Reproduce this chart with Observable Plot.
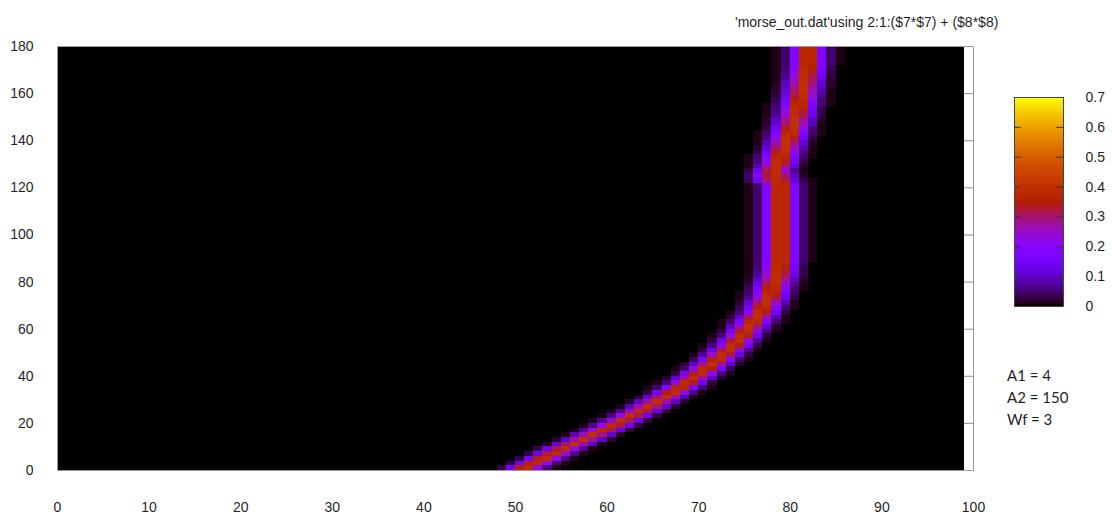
<!DOCTYPE html>
<html>
<head>
<meta charset="utf-8">
<script src="https://cdn.jsdelivr.net/npm/d3@7"></script>
<script src="https://cdn.jsdelivr.net/npm/@observablehq/plot@0.6"></script>
<style>
  body { margin: 0; background: #fff; }
  #wrap { position: relative; width: 1112px; height: 517px; overflow: hidden;
          font-family: "Liberation Sans", Arial, sans-serif; color: #1f1f1f; }
  #wrap svg { max-width: none; }
  #main { position: absolute; left: 0; top: 0; width: 1112px; }
  #bar { position: absolute; left: 1013px; top: 87px; width: 110px; }
  #title { position: absolute; left: 735px; top: 15px; font-size: 14px; line-height: 14px; white-space: nowrap; }
  #params { position: absolute; left: 1007px; top: 364px; font-family: Lato, "Open Sans", sans-serif;
            font-size: 15px; line-height: 22px; white-space: nowrap; }
</style>
</head>
<body>
<div id="wrap">
  <div id="main"></div>
  <div id="bar"></div>
  <div id="title">'morse_out.dat'using 2:1:($7*$7) + ($8*$8)</div>
  <div id="params"><div>A1 = 4</div><div>A2 = 150</div><div>Wf = 3</div></div>
</div>
<script>
// Axis ticks
const xTicks = [0, 10, 20, 30, 40, 50, 60, 70, 80, 90, 100];
const yTicks = [0, 20, 40, 60, 80, 100, 120, 140, 160, 180];
const barTicks = [0, 0.1, 0.2, 0.3, 0.4, 0.5, 0.6, 0.7];

// Grid rows (lower edge of each row, rows are 2 units tall)
const rowY = [
  0, 2, 4, 6, 8, 10, 12, 14, 16, 18,
  20, 22, 24, 26, 28, 30, 32, 34, 36, 38,
  40, 42, 44, 46, 48, 50, 52, 54, 56, 58,
  60, 62, 64, 66, 68, 70, 72, 74, 76, 78,
  80, 82, 84, 86, 88, 90, 92, 94, 96, 98,
  100, 102, 104, 106, 108, 110, 112, 114, 116, 118,
  120, 122, 124, 126, 128, 130, 132, 134, 136, 138,
  140, 142, 144, 146, 148, 150, 152, 154, 156, 158,
  160, 162, 164, 166, 168, 170, 172, 174, 176, 178
];

// First non-zero column of each row
const rowStart = [
  48, 49, 50, 51, 52, 53, 54, 55, 56, 57,
  58, 59, 60, 61, 62, 63, 64, 64, 65, 66,
  67, 67, 68, 69, 69, 70, 70, 71, 71, 72,
  72, 72, 73, 73, 74, 74, 74, 74, 75, 75,
  75, 75, 75, 75, 75, 75, 75, 75, 75, 75,
  75, 75, 75, 75, 75, 75, 75, 75, 75, 75,
  75, 75, 75, 75, 75, 75, 75, 76, 76, 76,
  76, 76, 77, 77, 77, 77, 77, 77, 78, 78,
  78, 78, 78, 78, 78, 78, 78, 78, 78, 78
];

// ($7*$7)+($8*$8) along each row, in hundredths, from rowStart onward
const rowValues = [
  [3,15,34,39,22,6,1], [3,15,34,39,22,6,1], [3,15,34,39,22,6,1], [3,13,32,39,24,7,1], [3,13,32,39,24,7,1],
  [2,11,30,40,26,9,1], [2,10,28,40,28,10,2], [1,9,26,40,30,11,2], [1,7,24,39,32,13,3], [1,7,24,39,32,13,3],
  [1,7,24,39,32,13,3], [1,7,24,39,32,13,3], [1,7,24,39,32,13,3], [1,9,26,40,30,11,2], [2,10,28,40,28,10,2],
  [2,11,30,40,26,9,1], [3,15,34,39,22,6,1], [1,5,18,37,37,18,5,1], [1,6,22,39,34,15,3], [2,10,28,40,28,10,2],
  [3,15,34,39,22,6,1], [1,5,20,38,35,16,4], [2,10,28,40,28,10,2], [4,16,35,38,20,5,1], [1,7,24,39,32,13,3],
  [3,13,32,39,24,7,1], [1,6,22,39,34,15,3], [3,13,32,39,24,7,1], [1,6,22,39,34,15,3], [3,15,34,39,22,6,1],
  [1,9,26,40,30,11,2], [1,5,18,37,37,18,5,1], [2,11,30,40,26,9,1], [1,6,22,39,34,15,3], [4,16,35,38,20,5,1],
  [2,11,30,40,26,9,1], [1,7,24,39,32,13,3], [1,5,20,38,35,16,4], [4,16,35,38,20,5,1], [3,13,32,39,24,7,1],
  [2,10,28,40,28,10,2], [1,7,24,39,32,13,3], [1,6,22,39,34,15,3], [1,5,20,38,35,16,4], [1,5,18,37,37,18,5,1],
  [1,5,18,37,37,18,5,1], [1,5,18,37,37,18,5,1], [1,5,18,37,37,18,5,1], [1,5,18,37,37,18,5,1], [1,5,18,37,37,18,5,1],
  [1,5,18,37,37,18,5,1], [1,5,18,37,37,18,5,1], [1,5,18,37,37,18,5,1], [1,5,18,37,37,18,5,1], [1,5,18,37,37,18,5,1],
  [1,5,18,37,37,18,5,1], [1,5,18,37,37,18,5,1], [1,5,18,37,37,18,5,1], [1,5,18,37,37,18,5,1], [1,5,18,37,37,18,5,1],
  [1,5,18,37,37,18,5,1], [4,15,30,38,33,12,3,1], [5,18,32,39,30,10,2], [3,13,32,39,24,7,1], [1,9,26,40,30,11,2],
  [1,6,22,39,34,15,3], [1,5,18,37,37,18,5,1], [3,15,34,39,22,6,1], [2,11,30,40,26,9,1], [1,9,26,40,30,11,2],
  [1,6,22,39,34,15,3], [1,5,18,37,37,18,5,1], [3,15,34,39,22,6,1], [2,11,30,40,26,9,1], [2,10,28,40,28,10,2],
  [1,7,24,39,32,13,3], [1,6,22,39,34,15,3], [1,5,18,37,37,18,5,1], [4,16,35,38,20,5,1], [3,13,32,39,24,7,1],
  [2,11,30,40,26,9,1], [2,10,28,40,28,10,2], [1,9,26,40,30,11,2], [1,7,24,39,32,13,3], [1,6,22,39,34,15,3],
  [1,5,20,38,35,16,4], [1,5,18,37,37,18,5,1], [1,5,18,37,37,18,5,1], [1,5,18,37,37,18,5,1], [1,5,18,37,37,18,5,1]
];

// One cell per grid column, 1 unit wide
const cells = [];
rowY.forEach((y, i) => {
  rowValues[i].forEach((v, j) => {
    if (v > 0) cells.push({x: rowStart[i] + j, y, v: v / 100});
  });
});

// pm3d palette rgbformulae 7,5,15
const palette = t => {
  const r = Math.sqrt(t), g = t * t * t, b = Math.max(0, Math.sin(2 * Math.PI * t));
  return `rgb(${Math.round(255 * r)},${Math.round(255 * g)},${Math.round(255 * b)})`;
};
const colorScale = {type: "linear", domain: [0, 0.7], interpolate: palette, clamp: true};

const font = {fontFamily: "Liberation Sans, Arial, sans-serif", fontSize: "14px", color: "#1f1f1f", background: "transparent"};

const main = Plot.plot({
  width: 1112, height: 517,
  marginLeft: 57, marginRight: 139, marginTop: 46, marginBottom: 47,
  style: font,
  x: {domain: [0, 100]},
  y: {domain: [0, 180]},
  color: colorScale,
  marks: [
    Plot.rect([null], {x1: () => 0, x2: () => 99, y1: () => 0, y2: () => 180, fill: () => 0, shapeRendering: "crispEdges"}),
    Plot.rect(cells, {x1: "x", x2: d => d.x + 1, y1: "y", y2: d => d.y + 2, fill: "v", shapeRendering: "crispEdges"}),
    Plot.ruleY(yTicks.slice(1, -1), {x1: () => 99, x2: () => 100, stroke: "#8c8c8c"}),
    Plot.frame({stroke: "#9a9a9a"}),
    Plot.axisX(xTicks, {tickSize: 0, tickPadding: 32, label: null}),
    Plot.axisY(yTicks, {tickSize: 0, tickPadding: 24, label: null})
  ]
});
document.getElementById("main").append(main);

const bar = Plot.plot({
  width: 110, height: 229,
  marginLeft: 1, marginRight: 60, marginTop: 10, marginBottom: 10,
  style: font,
  x: {domain: [0, 1], axis: null},
  y: {domain: [0, 0.7]},
  color: colorScale,
  marks: [
    Plot.raster({x1: 0, x2: 1, y1: 0, y2: 0.7, fill: (x, y) => y}),
    Plot.ruleY(barTicks.slice(1, -1), {x1: () => 0, x2: () => 0.14, stroke: "#333"}),
    Plot.ruleY(barTicks.slice(1, -1), {x1: () => 0.86, x2: () => 1, stroke: "#333"}),
    Plot.frame({stroke: "#444"}),
    Plot.axisY(barTicks, {anchor: "right", tickSize: 0, tickPadding: 22, tickFormat: d => String(d), label: null})
  ]
});
document.getElementById("bar").append(bar);
</script>
</body>
</html>
